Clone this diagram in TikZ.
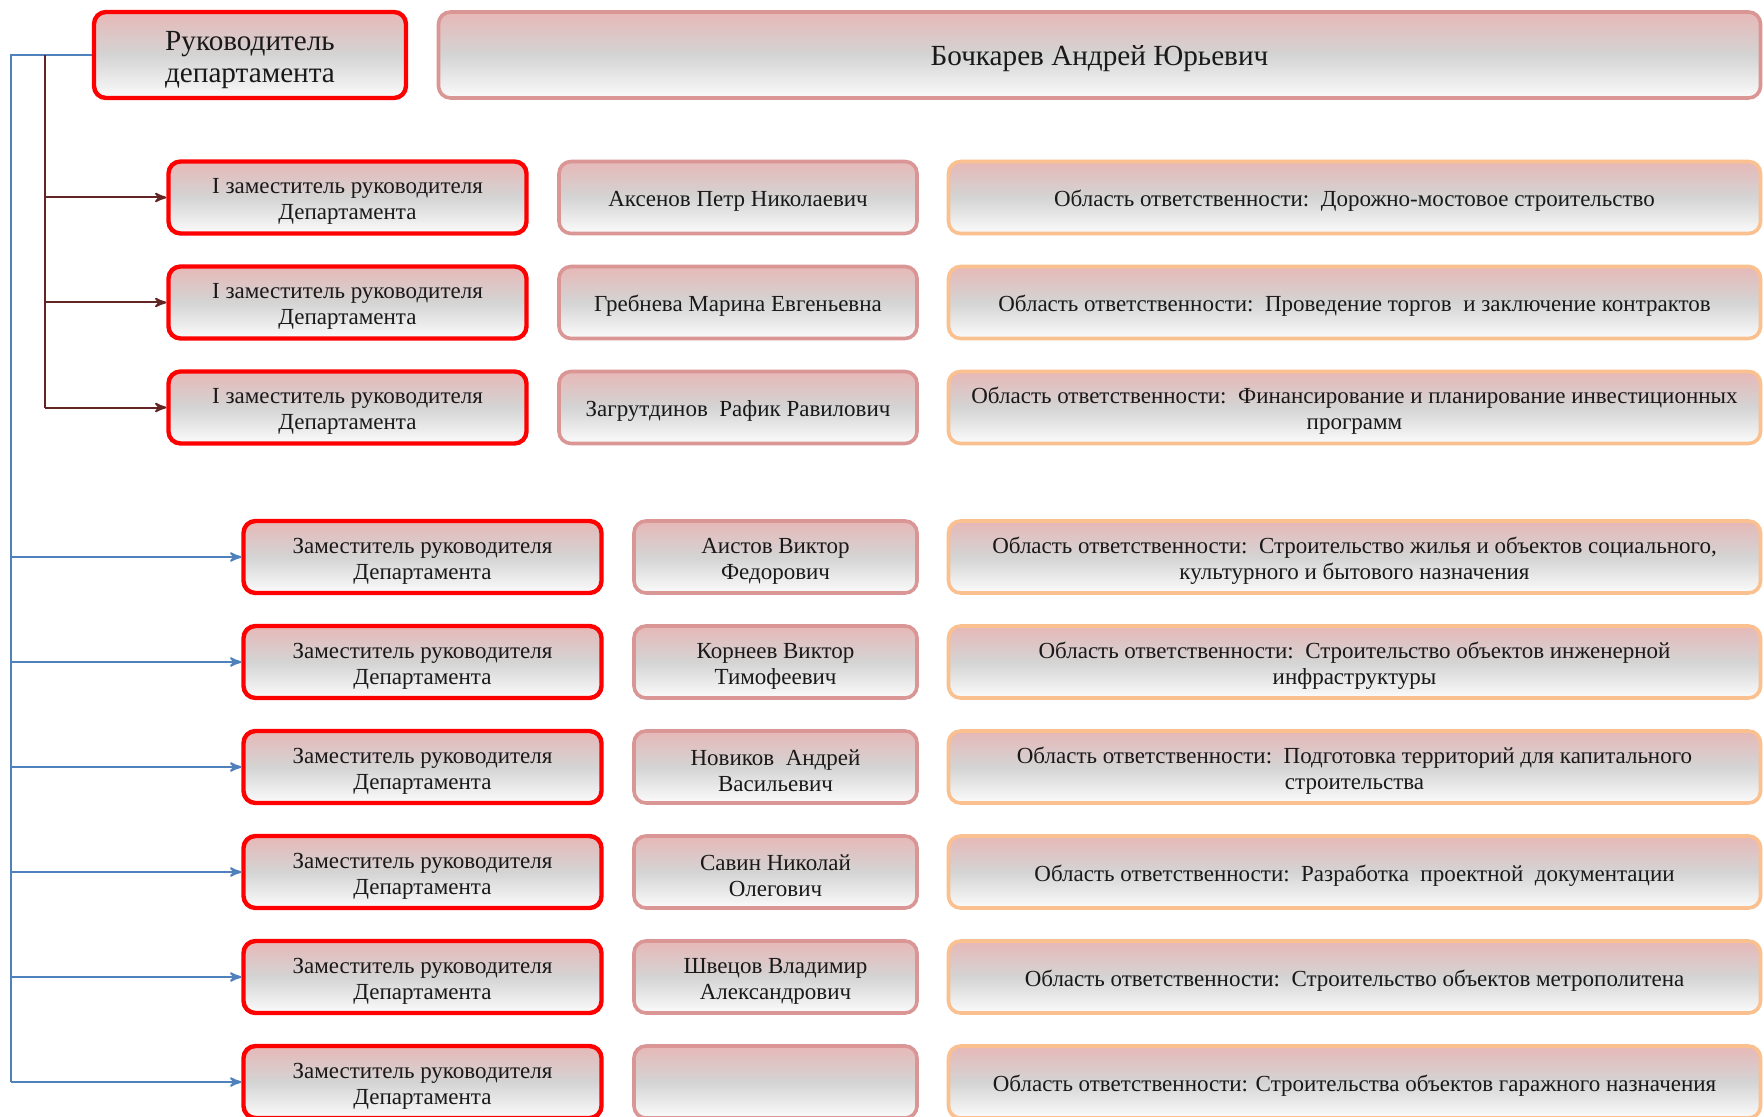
\documentclass[tikz,border=0pt]{standalone}
\usepackage{fontspec}
\setmainfont{Liberation Serif}
\usetikzlibrary{calc}
\usetikzlibrary{arrows}

\definecolor{boxred}{HTML}{FF0000}
\definecolor{boxpink}{HTML}{D99694}
\definecolor{boxorange}{HTML}{FAC08F}
\definecolor{shtop}{HTML}{E6B8B7}
\definecolor{shmid}{HTML}{D4D4D4}
\definecolor{shbot}{HTML}{FBFBFB}
\definecolor{linebrown}{HTML}{632523}
\definecolor{lineblue}{HTML}{4F81BD}
\pgfdeclareverticalshading{boxshade}{100bp}{color(0bp)=(shbot); color(25bp)=(shbot); color(50bp)=(shmid); color(75bp)=(shtop); color(100bp)=(shtop)}

\tikzset{
  box/.style={rounded corners=6pt, shading=boxshade, align=center, text=black!90,
    font=\fontsize{11.5}{13}\selectfont, inner sep=0pt, minimum height=36pt,
    execute at begin node={\rule{0pt}{11.6pt}}},
  twoline/.style={execute at begin node={\rule{0pt}{24.6pt}}},
  bigbox/.style={minimum height=43pt, font=\fontsize{14.6}{16}\selectfont,
    execute at begin node={\rule{0pt}{13.6pt}}},
  post/.style={box, twoline, draw=boxred, line width=2.2pt, minimum width=179pt},
  person/.style={box, draw=boxpink, line width=1.8pt},
  area/.style={box, draw=boxorange, line width=1.8pt, minimum width=406pt},
  brownarrow/.style={->, >=stealth', draw=linebrown, line width=1pt},
  bluearrow/.style={->, >=stealth', draw=lineblue, line width=1pt}
}

\begin{document}
\begin{tikzpicture}[x=0.5pt, y=-0.5pt]
  \clip (0,0) rectangle (1764,1117);
  \fill [white] (0,0) rectangle (1764,1117);

  \node [post, bigbox, minimum width=156pt, execute at begin node={\rule{0pt}{31pt}}] (head) at (250,55) {Руководитель\\департамента};
  \node [person, bigbox, minimum width=661pt] (chief) at (1099.5,55) {Бочкарев Андрей Юрьевич};

  \node [post] (f1) at (347.5,197.5) {I заместитель руководителя\\Департамента};
  \node [person, minimum width=179pt] (n1) at (738,197.5) {Аксенов Петр Николаевич};
  \node [area] (a1) at (1354.5,197.5) {Область ответственности:\ \ Дорожно-мостовое строительство};

  \node [post] (f2) at (347.5,302.5) {I заместитель руководителя\\Департамента};
  \node [person, minimum width=179pt] (n2) at (738,302.5) {Гребнева Марина Евгеньевна};
  \node [area] (a2) at (1354.5,302.5) {Область ответственности:\ \ Проведение торгов\ \ и заключение контрактов};

  \node [post] (f3) at (347.5,407.5) {I заместитель руководителя\\Департамента};
  \node [person, minimum width=179pt] (n3) at (738,407.5) {Загрутдинов\ \ Рафик Равилович};
  \node [area, twoline] (a3) at (1354.5,407.5) {Область ответственности:\ \ Финансирование и планирование инвестиционных\\программ};

  \node [post] (d1) at (422.5,557) {Заместитель руководителя\\Департамента};
  \node [person, twoline, minimum width=141.5pt] (m1) at (775.5,557) {Аистов Виктор\\Федорович};
  \node [area, twoline] (b1) at (1354.5,557) {Область ответственности:\ \ Строительство жилья и объектов социального,\\культурного и бытового назначения};

  \node [post] (d2) at (422.5,662) {Заместитель руководителя\\Департамента};
  \node [person, twoline, minimum width=141.5pt] (m2) at (775.5,662) {Корнеев Виктор\\Тимофеевич};
  \node [area, twoline] (b2) at (1354.5,662) {Область ответственности:\ \ Строительство объектов инженерной\\инфраструктуры};

  \node [post] (d3) at (422.5,767) {Заместитель руководителя\\Департамента};
  \node [person, twoline, minimum width=141.5pt] (m3) at (775.5,767) {Новиков\ \ Андрей\\Васильевич};
  \node [area, twoline] (b3) at (1354.5,767) {Область ответственности:\ \ Подготовка территорий для капитального\\строительства};

  \node [post] (d4) at (422.5,872) {Заместитель руководителя\\Департамента};
  \node [person, twoline, minimum width=141.5pt] (m4) at (775.5,872) {Савин Николай\\Олегович};
  \node [area] (b4) at (1354.5,872) {Область ответственности:\ \ Разработка\ \ проектной\ \ документации};

  \node [post] (d5) at (422.5,977) {Заместитель руководителя\\Департамента};
  \node [person, twoline, minimum width=141.5pt] (m5) at (775.5,977) {Швецов Владимир\\Александрович};
  \node [area] (b5) at (1354.5,977) {Область ответственности:\ \ Строительство объектов метрополитена};

  \node [post] (d6) at (422.5,1082) {Заместитель руководителя\\Департамента};
  \node [person, minimum width=141.5pt] (m6) at (775.5,1082) {};
  \node [area] (b6) at (1354.5,1082) {Область ответственности: Строительства объектов гаражного назначения};

  \coordinate (bluetop) at (11,55);
  \coordinate (browntop) at (45,55);
  \draw [lineblue, line width=1pt] (head.west) -- (bluetop) -- (bluetop |- d6.west);
  \draw [linebrown, line width=1pt] (browntop) -- (browntop |- f3.west);
  \draw [brownarrow] (browntop |- f1.west) -- (f1.west);
  \draw [brownarrow] (browntop |- f2.west) -- (f2.west);
  \draw [brownarrow] (browntop |- f3.west) -- (f3.west);
  \draw [bluearrow] (bluetop |- d1.west) -- (d1.west);
  \draw [bluearrow] (bluetop |- d2.west) -- (d2.west);
  \draw [bluearrow] (bluetop |- d3.west) -- (d3.west);
  \draw [bluearrow] (bluetop |- d4.west) -- (d4.west);
  \draw [bluearrow] (bluetop |- d5.west) -- (d5.west);
  \draw [bluearrow] (bluetop |- d6.west) -- (d6.west);
\end{tikzpicture}
\end{document}
